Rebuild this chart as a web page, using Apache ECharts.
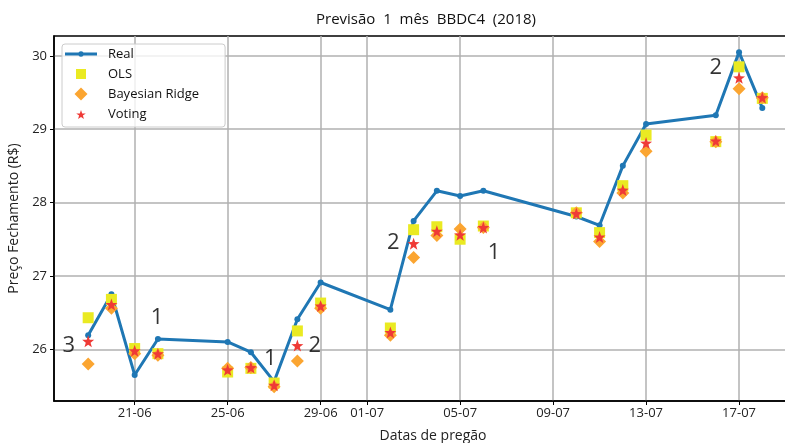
<!DOCTYPE html>
<html>
<head>
<meta charset="utf-8">
<script src="https://cdn.jsdelivr.net/npm/echarts@6/dist/echarts.min.js"></script>
<style>html,body{margin:0;padding:0;background:#fff}#c{width:785px;height:443px}</style>
</head>
<body>
<div id="c"></div>
<script>
const dates = ['2018-06-19','2018-06-20','2018-06-21','2018-06-22','2018-06-25','2018-06-26','2018-06-27','2018-06-28','2018-06-29',
  '2018-07-02','2018-07-03','2018-07-04','2018-07-05','2018-07-06','2018-07-10','2018-07-11','2018-07-12','2018-07-13','2018-07-16','2018-07-17','2018-07-18'];
const real   = [26.19,26.75,25.65,26.14,26.10,25.96,25.56,26.41,26.91,26.54,27.75,28.16,28.09,28.16,27.81,27.69,28.50,29.07,29.19,30.05,29.29];
const ols    = [26.43,26.68,26.01,25.94,25.69,25.74,25.54,26.25,26.63,26.29,27.63,27.67,27.50,27.68,27.86,27.59,28.23,28.92,28.83,29.85,29.42];
const bayes  = [25.80,26.56,25.94,25.92,25.74,25.75,25.49,25.84,26.56,26.19,27.25,27.55,27.64,27.66,27.86,27.47,28.13,28.70,28.83,29.55,29.43];
const voting = [26.11,26.61,25.98,25.94,25.72,25.75,25.51,26.05,26.59,26.23,27.44,27.61,27.56,27.66,27.85,27.53,28.17,28.81,28.84,29.70,29.43];
const xTickDates = ['2018-06-21','2018-06-25','2018-06-29','2018-07-01','2018-07-05','2018-07-09','2018-07-13','2018-07-17'];
const yTicks = [26,27,28,29,30];
const annDates  = ['2018-06-18 04:00','2018-06-21 23:00','2018-06-26 20:00','2018-06-28 18:00','2018-07-02 03:00','2018-07-06 11:00','2018-07-16 00:00'];
const annValues = [26.07,26.46,25.90,26.07,27.48,27.34,29.86];
const annTexts  = ['3','1','1','2','2','1','2'];

const T = d => echarts.time.parse(d).getTime();
const DAY = 86400000;
const pad = n => (n < 10 ? '0' : '') + n;
const pair = arr => dates.map((d, i) => [T(d), arr[i]]);
const STAR = 'path://M0,-10L2.35,-3.24L9.51,-3.09L3.8,1.24L5.88,8.09L0,4.2L-5.88,8.09L-3.8,1.24L-9.51,-3.09L-2.35,-3.24Z';
const FONT = 'Open Sans';
const xTicks = xTickDates.map(T);
// legend icons drawn in a 32x14 box (corner points fix the box so shapes keep their aspect)
const BOX = 'M0,0L0,0M32,14L32,14';
const ICON_REAL = 'path://' + BOX + 'M0,5.5L32,5.5L32,8.5L0,8.5Z M13.3,7A2.7,2.7 0 1 1 18.7,7A2.7,2.7 0 1 1 13.3,7Z';
const ICON_OLS = 'path://' + BOX + 'M11,2L21,2L21,12L11,12Z';
const ICON_BR = 'path://' + BOX + 'M16,0.5L22.5,7L16,13.5L9.5,7Z';
const ICON_VOT = 'path://' + BOX + 'M16,3L17.18,6.38L20.76,6.46L17.9,8.62L18.94,12.05L16,10.1L13.06,12.05L14.1,8.62L11.24,6.46L14.82,6.38Z';

const chart = echarts.init(document.getElementById('c'), null, {renderer: 'canvas'});
chart.setOption({
  animation: false,
  backgroundColor: '#fff',
  textStyle: {fontFamily: FONT},
  title: {
    text: 'Previsão  1  mês  BBDC4  (2018)',
    left: 421, top: 7, textAlign: 'center',
    textStyle: {fontFamily: FONT, fontSize: 15, fontWeight: 'normal', color: '#111'}
  },
  grid: {left: 54, top: 36, right: -11, bottom: 42, outerBoundsMode: 'none', containLabel: false,
    show: true, borderColor: '#000', borderWidth: 1.5, backgroundColor: 'transparent'},
  legend: {
    orient: 'vertical', left: 62, top: 44,
    padding: [3, 26, 6, 3], itemGap: 6, itemWidth: 32, itemHeight: 14,
    backgroundColor: 'rgba(255,255,255,0.8)', borderColor: '#ccc', borderWidth: 1, borderRadius: 3,
    textStyle: {fontFamily: FONT, fontSize: 13, color: '#111', padding: [0, 0, 0, 6]},
    data: [
      {name: 'Real', icon: ICON_REAL},
      {name: 'OLS', icon: ICON_OLS},
      {name: 'Bayesian Ridge', icon: ICON_BR},
      {name: 'Voting', icon: ICON_VOT}
    ]
  },
  xAxis: {
    type: 'value',
    min: T('2018-06-17') + 0.53 * DAY,
    max: T('2018-07-19') + 0.45 * DAY,
    name: 'Datas de pregão', nameLocation: 'middle', nameGap: 28,
    nameTextStyle: {fontFamily: FONT, fontSize: 14, color: '#222', padding: [0, 0, 0, 16]},
    axisLine: {show: true, onZero: false, lineStyle: {color: '#000', width: 1.5}},
    axisTick: {show: true, length: 4, lineStyle: {color: '#000', width: 1}, customValues: xTicks},
    axisLabel: {fontFamily: FONT, fontSize: 13, color: '#222', margin: 6, customValues: xTicks,
      formatter: v => { const d = new Date(v); return pad(d.getDate()) + '-' + pad(d.getMonth() + 1); }},
    splitLine: {show: true, lineStyle: {color: '#b0b0b0', width: 1.5}}
  },
  yAxis: {
    type: 'value', min: 25.295, max: 30.27,
    name: 'Preço Fechamento (R$)', nameLocation: 'middle', nameGap: 26,
    nameTextStyle: {fontFamily: FONT, fontSize: 14, color: '#222'},
    axisLine: {show: true, onZero: false, lineStyle: {color: '#000', width: 1.5}},
    axisTick: {show: true, length: 4, lineStyle: {color: '#000', width: 1}, customValues: yTicks},
    axisLabel: {fontFamily: FONT, fontSize: 13, color: '#222', margin: 7, customValues: yTicks},
    splitLine: {show: true, lineStyle: {color: '#b0b0b0', width: 1.5}}
  },
  series: [
    {name: 'Real', type: 'line', data: pair(real), symbol: 'circle', symbolSize: 6, z: 2,
      itemStyle: {color: '#1f77b4'}, lineStyle: {color: '#1f77b4', width: 3}},
    {name: 'OLS', type: 'scatter', data: pair(ols), symbol: 'rect', symbolSize: 11, z: 3,
      itemStyle: {color: '#eaea22', opacity: 1}},
    {name: 'Bayesian Ridge', type: 'scatter', data: pair(bayes), symbol: 'diamond', symbolSize: 13, z: 4,
      itemStyle: {color: '#fba531', opacity: 1}},
    {name: 'Voting', type: 'scatter', data: pair(voting), symbol: STAR, symbolSize: 12, z: 5,
      itemStyle: {color: '#ef3a36', opacity: 1}},
    {name: 'annotations', type: 'scatter', symbolSize: 0, z: 6, silent: true,
      data: annDates.map((d, i) => ({value: [T(d), annValues[i]], label: {formatter: annTexts[i]}})),
      label: {show: true, position: 'inside', offset: [0, 2], fontFamily: FONT, fontSize: 22, color: '#000'}}
  ]
});
</script>
</body>
</html>
